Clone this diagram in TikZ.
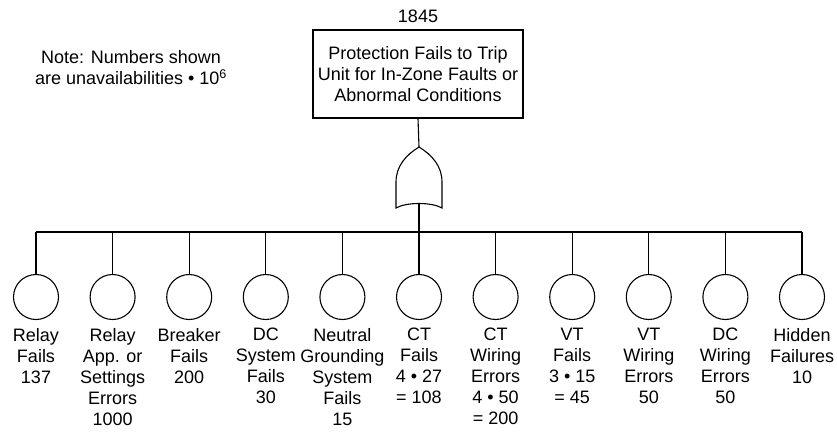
\documentclass[tikz,border=0pt]{standalone}
\usepackage{fontspec}
\setmainfont{Liberation Sans}
\usepackage{xcolor}
\definecolor{cLine}{HTML}{000000}
\usepackage{tikz}
\usetikzlibrary{positioning,calc}
\tikzset{
  top-event/.style={draw=cLine,line width=1.1pt,rectangle,minimum width=210pt,
    minimum height=88pt,align=center,inner sep=0pt},
  basic-event/.style={draw=cLine,line width=1.1pt,circle,minimum size=45pt,inner sep=0pt},
  event-text/.style={align=center,inner sep=0pt},
  wire/.style={line width=1.1pt,draw=cLine},
}
\begin{document}
\begin{tikzpicture}[x=1pt,y=-1pt,font=\fontsize{18}{21}\selectfont]
  \useasboundingbox (0,0) rectangle (837,432);
  % top event and note
  \node[top-event] at (418,74) (top) {Protection Fails to Trip\\Unit for In-Zone Faults or\\Abnormal Conditions};
  \node[event-text,above=7pt of top] (top-val) {1845};
  \node[event-text] at (131,68) (note) {Note: Numbers shown\\are unavailabilities \textbullet{} 10\textsuperscript{6}};
  % OR gate
  \coordinate (gate-top) at (419,147);
  \coordinate (gate-out) at (419,204);
  \draw[wire] (gate-top) .. controls (432,155) and (442,166) .. (442,182)
    -- (442,208) .. controls (432,202) and (406,202) .. (396,208)
    -- (396,182) .. controls (396,166) and (406,155) .. (gate-top) -- cycle;
  \draw[wire] (top.south) -- (gate-top);
  \coordinate (bus) at (419,232);
  % basic events
  \foreach \i/\txt in {1/{Relay\\Fails\\137},
      2/{Relay\\App. or\\Settings\\Errors\\1000},
      3/{Breaker\\Fails\\200},
      4/{DC\\System\\Fails\\30},
      5/{Neutral\\Grounding\\System\\Fails\\15},
      6/{CT\\Fails\\4 \textbullet{} 27\\= 108},
      7/{CT\\Wiring\\Errors\\4 \textbullet{} 50\\= 200},
      8/{VT\\Fails\\3 \textbullet{} 15\\= 45},
      9/{VT\\Wiring\\Errors\\50},
      10/{DC\\Wiring\\Errors\\50},
      11/{Hidden\\Failures\\10}} {
    \node[basic-event] at ({36+76.6*(\i-1)},297) (e\i) {};
    \node[event-text,below=8pt of e\i] (t\i) {\txt};
    \draw[wire] (e\i.north) -- (e\i.north |- bus);
  }
  \draw[wire] (e1.north |- bus) -- (e11.north |- bus);
  \draw[wire] (gate-out) -- (bus);
\end{tikzpicture}
\end{document}
